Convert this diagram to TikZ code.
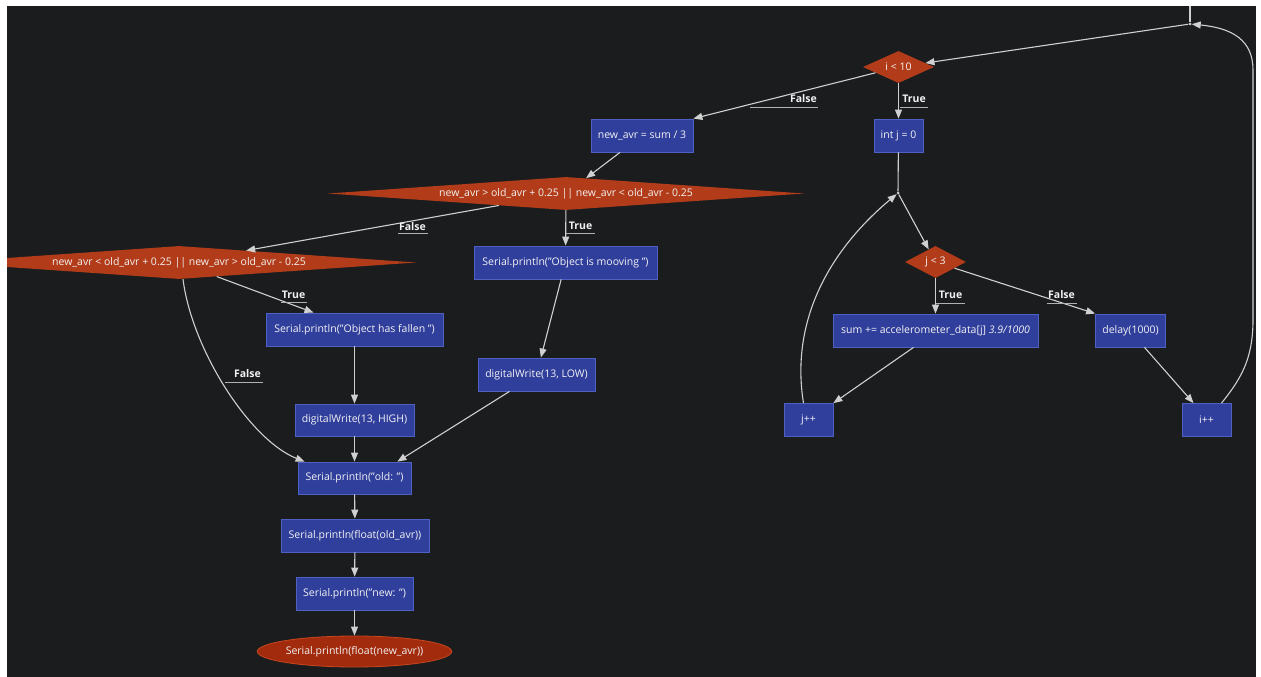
\documentclass[tikz,border=0pt]{standalone}
\usepackage{fontspec}
\setmainfont{Open Sans}
\usetikzlibrary{shapes.geometric,arrows.meta}
\definecolor{bg}{HTML}{1B1C1E}
\definecolor{boxfill}{HTML}{303F9C}
\definecolor{boxline}{HTML}{4F62C4}
\definecolor{decfill}{HTML}{B23C19}
\definecolor{endfill}{HTML}{A22B0D}
\definecolor{endline}{HTML}{C9471E}
\definecolor{edge}{HTML}{D0D0D0}
\definecolor{txt}{HTML}{F2F2F2}
\begin{document}
\begin{tikzpicture}[x=1pt,y=-1pt,
  every node/.style={font=\fontsize{10.5}{12}\selectfont, text=txt},
  proc/.style={rectangle, draw=boxline, fill=boxfill, line width=0.8pt, minimum height=33pt, inner xsep=3pt, inner ysep=0pt},
  dec/.style={diamond, fill=decfill, draw=none, inner sep=0pt},
  term/.style={ellipse, fill=endfill, draw=endline, line width=0.8pt, inner sep=0pt},
  junc/.style={circle, fill=edge, inner sep=0pt, minimum size=3pt},
  flow/.style={draw=edge, line width=1.1pt, -{Triangle[length=9pt,width=7pt]}},
  link/.style={draw=edge, line width=1.1pt},
  lbl/.style={font=\fontsize{10.5}{12}\selectfont\bfseries, inner sep=0pt, text=txt},
  uline/.style={draw=edge!85!black, line width=0.9pt}
]
\fill[white] (0,0) rectangle (1261,677);
\useasboundingbox (0,0) rectangle (1261,677);
\begin{scope}
\clip (7,6) rectangle (1256,677);
\fill[bg] (7,6) rectangle (1256,677);

% nodes
\coordinate (topin) at (1190,6);
\node[junc] (jtop) at (1190,24) {};
\node[dec, minimum width=71pt, minimum height=32pt, aspect=2.2] (i10) at (898.5,67) {i < 10};
\node[proc, minimum width=102pt] (navr) at (642,135.5) {new\_avr = sum / 3};
\node[proc, minimum width=49pt] (intj) at (898.5,135.5) {int j = 0};
\node[junc] (jmid) at (898,193) {};
\node[dec, minimum width=61pt, minimum height=32pt, aspect=1.9] (j3) at (935.5,262) {j < 3};
\node[proc, minimum width=205pt] (sum) at (935.5,330.5) {sum += accelerometer\_data[j] \textit{3.9/1000}};
\node[proc, minimum width=70pt] (delay) at (1130.5,330.5) {delay(1000)};
\node[proc, minimum width=49pt] (jpp) at (808.5,420) {j++};
\node[proc, minimum width=49pt] (ipp) at (1206.5,420) {i++};
\node[dec, minimum width=476pt, minimum height=33pt, aspect=14] (d1) at (566,193.5) {new\_avr > old\_avr + 0.25 || new\_avr < old\_avr - 0.25};
\node[dec, minimum width=474pt, minimum height=33pt, aspect=14] (d2) at (179,262.5) {new\_avr < old\_avr + 0.25 || new\_avr > old\_avr - 0.25};
\node[proc, minimum width=183pt] (mov) at (565.5,262.5) {Serial.println("Object is mooving ")};
\node[proc, minimum width=177pt] (fallen) at (354.5,329.5) {Serial.println("Object has fallen ")};
\node[proc, minimum width=117pt] (dlow) at (536.5,374.5) {digitalWrite(13, LOW)};
\node[proc, minimum width=119pt, minimum height=32pt] (dhigh) at (354.5,420) {digitalWrite(13, HIGH)};
\node[proc, minimum width=113pt, minimum height=32pt] (old) at (354.5,478) {Serial.println("old: ")};
\node[proc, minimum width=148pt] (foa) at (355,535.5) {Serial.println(float(old\_avr))};
\node[proc, minimum width=117pt] (new) at (354.5,593.5) {Serial.println("new: ")};
\node[term, minimum width=191pt, minimum height=31pt] (end) at (354.5,651.5) {Serial.println(float(new\_avr))};

% edges right part
\draw[link] (topin) -- (jtop);
\draw[flow] (jtop) -- (i10);
\draw[flow] (i10) -- (navr.north east);
\draw[flow] (i10) -- (intj);
\draw[link] (intj) -- (jmid);
\draw[flow] (jmid) -- (j3);
\draw[flow] (j3) -- (sum);
\draw[flow] (j3) -- (delay.north west);
\draw[flow] ([xshift=-22pt]sum.south) -- (jpp.north east);
\draw[flow] ([xshift=14pt]delay.south) -- ([xshift=-13pt]ipp.north);
\draw[flow] ([xshift=-5pt]jpp.north) .. controls (790,320) and (830,250) .. (jmid);
\draw[flow] ([xshift=15pt]ipp.north) .. controls (1240,380) and (1253,360) .. (1253,320) -- (1253,70) .. controls (1253,40) and (1232,28) .. (jtop);

% edges left part
\draw[flow] ([xshift=-22pt]navr.south) -- (d1);
\draw[flow] (d1) -- (d2);
\draw[flow] (d1) -- (mov);
\draw[flow] (mov) -- (dlow);
\draw[flow] (dlow) -- ([xshift=-14pt]old.north east);
\draw[flow] (d2) -- ([xshift=-41pt]fallen.north);
\draw[flow] ([xshift=4pt]d2.south) .. controls (192,350) and (250,440) .. ([xshift=7pt]old.north west);
\draw[flow] (fallen) -- (dhigh);
\draw[flow] (dhigh) -- (old);
\draw[flow] (old) -- (foa);
\draw[flow] (foa) -- (new);
\draw[flow] (new) -- (end);

% labels
\node[lbl] (lf1) at (803.5,99) {False};
\draw[uline] (750,107) -- (818,107);
\node[lbl] (lt1) at (914,99) {True};
\draw[uline] (900,107) -- (928,107);
\node[lbl] (lf2) at (412.5,227) {False};
\draw[uline] (398,233) -- (428,233);
\node[lbl] (lt2) at (580.5,226) {True};
\draw[uline] (566,233) -- (595,233);
\node[lbl] (lt3) at (293.5,295) {True};
\draw[uline] (281,302) -- (307,302);
\node[lbl] (lf3) at (247.5,374) {False};
\draw[uline] (225,382) -- (263,382);
\node[lbl] (lt4) at (950.5,295) {True};
\draw[uline] (936,303) -- (965,303);
\node[lbl] (lf4) at (1061.5,295) {False};
\draw[uline] (1047,303) -- (1077,303);
\end{scope}
\end{tikzpicture}
\end{document}
